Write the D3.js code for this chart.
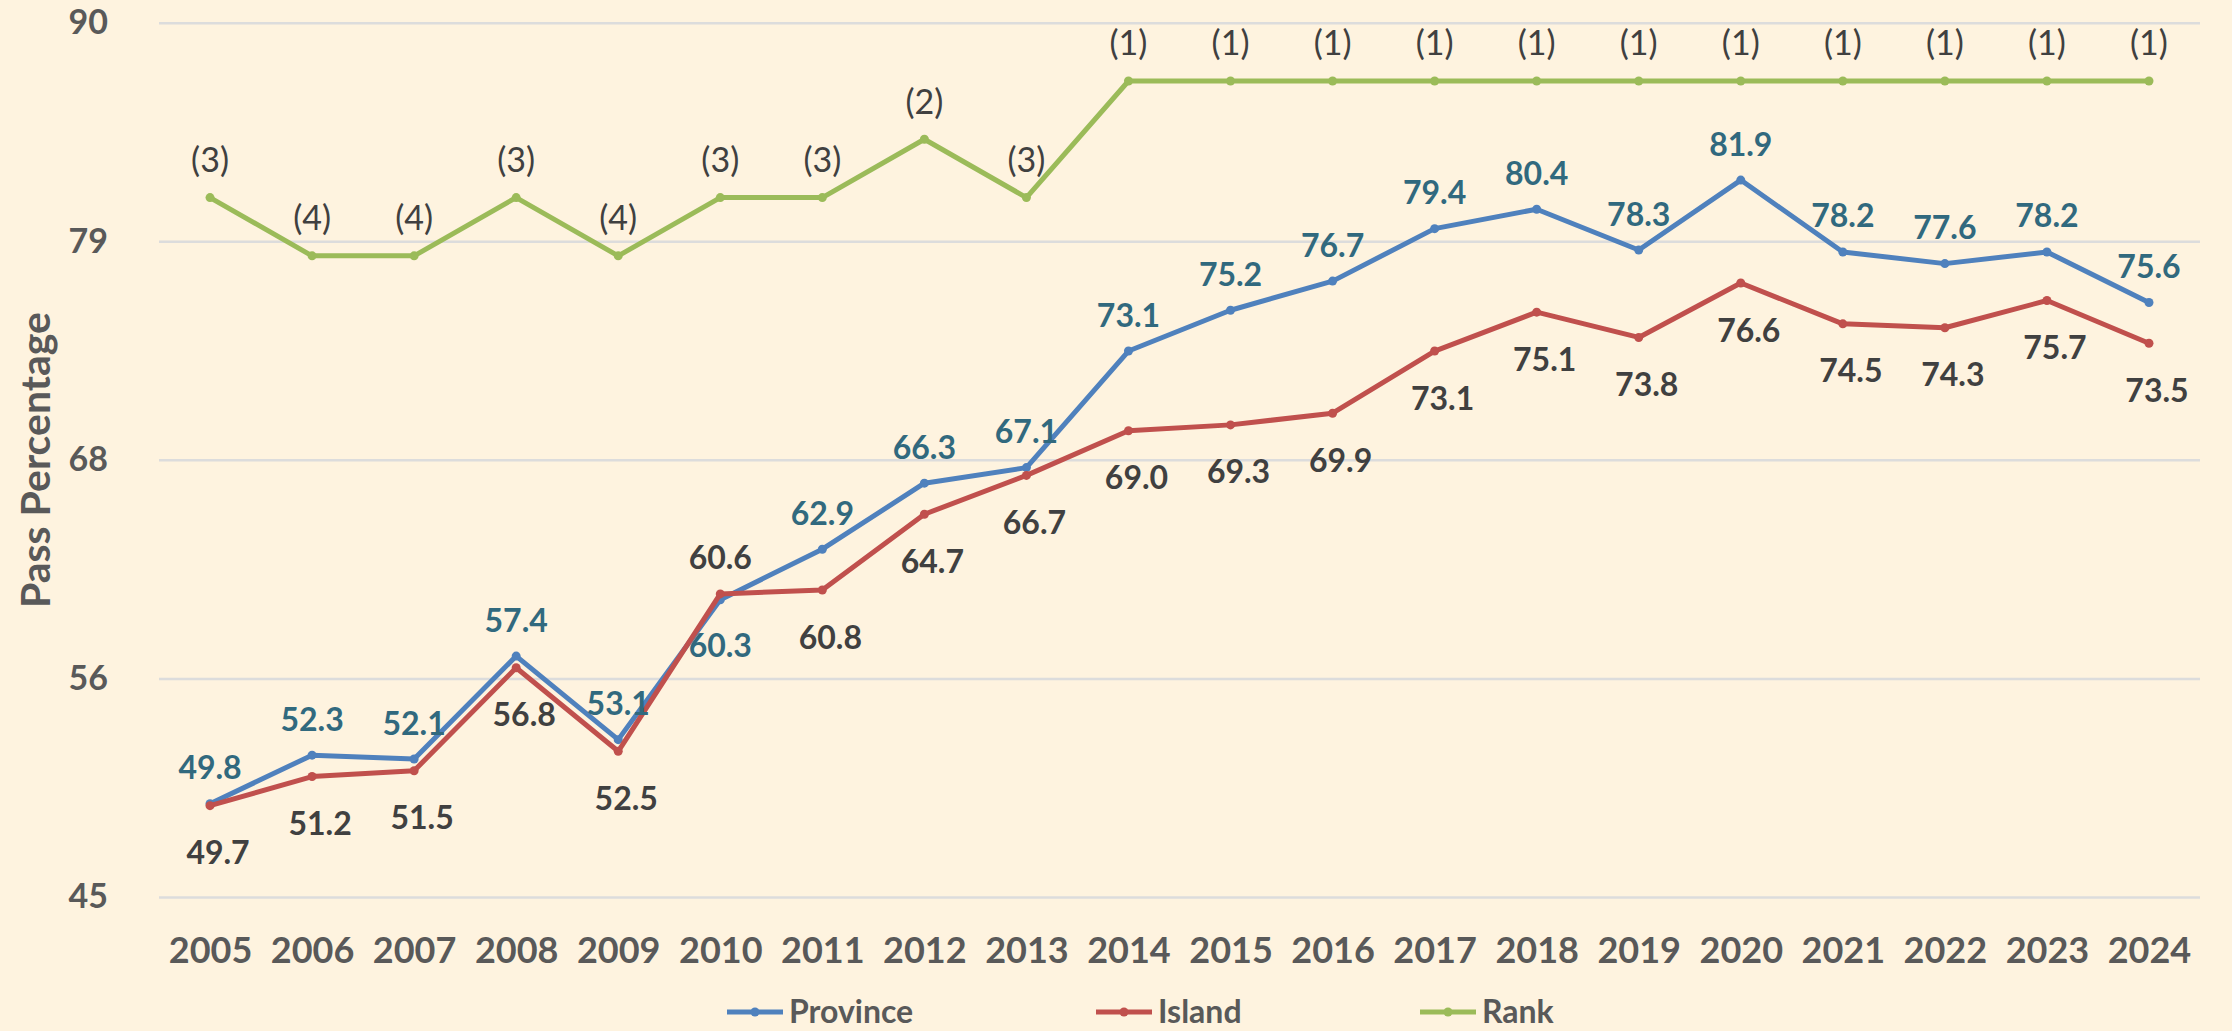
<!DOCTYPE html>
<html>
<head>
<meta charset="utf-8">
<script src="https://cdn.jsdelivr.net/npm/d3@7"></script>
<style>
  html, body { margin: 0; padding: 0; background: #fef3df; }
  svg { display: block; font-family: Lato, "Open Sans", sans-serif; }
</style>
</head>
<body>
<svg id="chart" width="2232" height="1031"></svg>
<script>
const years = ['2005','2006','2007','2008','2009','2010','2011','2012','2013','2014',
               '2015','2016','2017','2018','2019','2020','2021','2022','2023','2024'];
const province = [49.8, 52.3, 52.1, 57.4, 53.1, 60.3, 62.9, 66.3, 67.1, 73.1,
                  75.2, 76.7, 79.4, 80.4, 78.3, 81.9, 78.2, 77.6, 78.2, 75.6];
const island = [49.7, 51.2, 51.5, 56.8, 52.5, 60.6, 60.8, 64.7, 66.7, 69.0,
                69.3, 69.9, 73.1, 75.1, 73.8, 76.6, 74.5, 74.3, 75.7, 73.5];
const rank = [3, 4, 4, 3, 4, 3, 3, 2, 3, 1, 1, 1, 1, 1, 1, 1, 1, 1, 1, 1];
const yTicks = [45, 56.25, 67.5, 78.75, 90];
const seriesNames = ['Province', 'Island', 'Rank'];

function draw_chart (sel) {
    const svg = d3.select(sel);

    const left = 159, right = 2200, top = 22.7, bottom = 897;

    const x = d3.scalePoint()
        .domain(years)
        .range([left, right])
        .padding(0.5);

    const y = d3.scaleLinear()
        .domain([45, 90])
        .range([bottom, top]);

    // rank sits on a hidden reversed axis
    const yRank = d3.scaleLinear()
        .domain([0, 15])
        .range([top, bottom]);

    const colors = { Province: '#4f81bd', Island: '#c0504d', Rank: '#9bbb59' };

    /*grid*/
    svg.append('g')
        .attr('class', 'grid')
        .call(d3.axisLeft(y).tickValues(yTicks).tickSize(-(right - left)).tickFormat(''))
        .attr('transform', `translate(${left}, 0)`)
        .call(g => g.select('.domain').remove())
        .call(g => g.selectAll('line').attr('stroke', '#dcdcdc').attr('stroke-width', 2.5));

    /*y axis labels*/
    svg.append('g')
        .attr('transform', `translate(${left}, 0)`)
        .call(d3.axisLeft(y).tickValues(yTicks).tickSize(0).tickPadding(51).tickFormat(d => d.toFixed(0)))
        .call(g => g.select('.domain').remove())
        .call(g => g.selectAll('text')
            .attr('font-family', 'Lato, sans-serif')
            .attr('font-size', 34)
            .attr('font-weight', 'bold')
            .attr('fill', '#595959'));

    /*x axis labels*/
    svg.append('g')
        .attr('transform', `translate(0, ${bottom})`)
        .call(d3.axisBottom(x).tickSize(0).tickPadding(40))
        .call(g => g.select('.domain').remove())
        .call(g => g.selectAll('text')
            .attr('font-family', 'Lato, sans-serif')
            .attr('font-size', 36)
            .attr('font-weight', 'bold')
            .attr('fill', '#595959'));

    /*y title*/
    svg.append('text')
        .attr('transform', 'translate(50, 460) rotate(-90)')
        .attr('text-anchor', 'middle')
        .attr('font-size', 41)
        .attr('font-weight', 'bold')
        .attr('fill', '#595959')
        .text('Pass Percentage');

    const line = d3.line()
        .x((d, i) => x(years[i]))
        .y(d => y(d));

    const lineRank = d3.line()
        .x((d, i) => x(years[i]))
        .y(d => yRank(d));

    const series = [
        { name: 'Province', values: province, line: line, sy: y },
        { name: 'Island', values: island, line: line, sy: y },
        { name: 'Rank', values: rank, line: lineRank, sy: yRank }
    ];

    series.forEach(s => {
        svg.append('path')
            .datum(s.values)
            .attr('fill', 'none')
            .attr('stroke', colors[s.name])
            .attr('stroke-width', 5)
            .attr('stroke-linejoin', 'round')
            .attr('d', s.line);

        svg.append('g')
            .selectAll('circle')
            .data(s.values)
            .enter()
            .append('circle')
            .attr('cx', (d, i) => x(years[i]))
            .attr('cy', d => s.sy(d))
            .attr('r', 4.5)
            .attr('fill', colors[s.name]);
    });

    /*data labels: higher of the two series above, lower below*/
    const labels = svg.append('g')
        .attr('font-size', 32)
        .attr('font-weight', 'bold')
        .attr('text-anchor', 'middle')
        .attr('dominant-baseline', 'central');

    years.forEach((yr, i) => {
        const pHigh = province[i] >= island[i];
        labels.append('text')
            .attr('x', x(yr))
            .attr('y', y(province[i]) + (pHigh ? -37 : 45))
            .attr('fill', '#31697e')
            .text(province[i].toFixed(1));
        labels.append('text')
            .attr('x', x(yr) + (pHigh ? 8 : 0))
            .attr('y', y(island[i]) + (pHigh ? 46 : -37))
            .attr('fill', '#404040')
            .text(island[i].toFixed(1));
    });

    /*rank labels*/
    svg.append('g')
        .selectAll('text')
        .data(rank)
        .enter()
        .append('text')
        .attr('x', (d, i) => x(years[i]))
        .attr('y', d => yRank(d) - 39)
        .attr('text-anchor', 'middle')
        .attr('dominant-baseline', 'central')
        .attr('font-size', 34)
        .attr('fill', '#404040')
        .text(d => `(${d})`);

    /*legend*/
    const legendX = [727, 1096, 1420];
    const legend = svg.append('g')
        .selectAll('g')
        .data(seriesNames)
        .enter()
        .append('g')
        .attr('transform', (d, i) => `translate(${legendX[i]}, 1012)`);

    legend.append('line')
        .attr('x1', 0).attr('x2', 56)
        .attr('stroke', d => colors[d])
        .attr('stroke-width', 5);

    legend.append('circle')
        .attr('cx', 28)
        .attr('r', 4.5)
        .attr('fill', d => colors[d]);

    legend.append('text')
        .attr('x', 62)
        .attr('y', 11)
        .attr('font-size', 32)
        .attr('font-weight', 'bold')
        .attr('fill', '#595959')
        .text(d => d);
}

draw_chart('#chart');
</script>
</body>
</html>
